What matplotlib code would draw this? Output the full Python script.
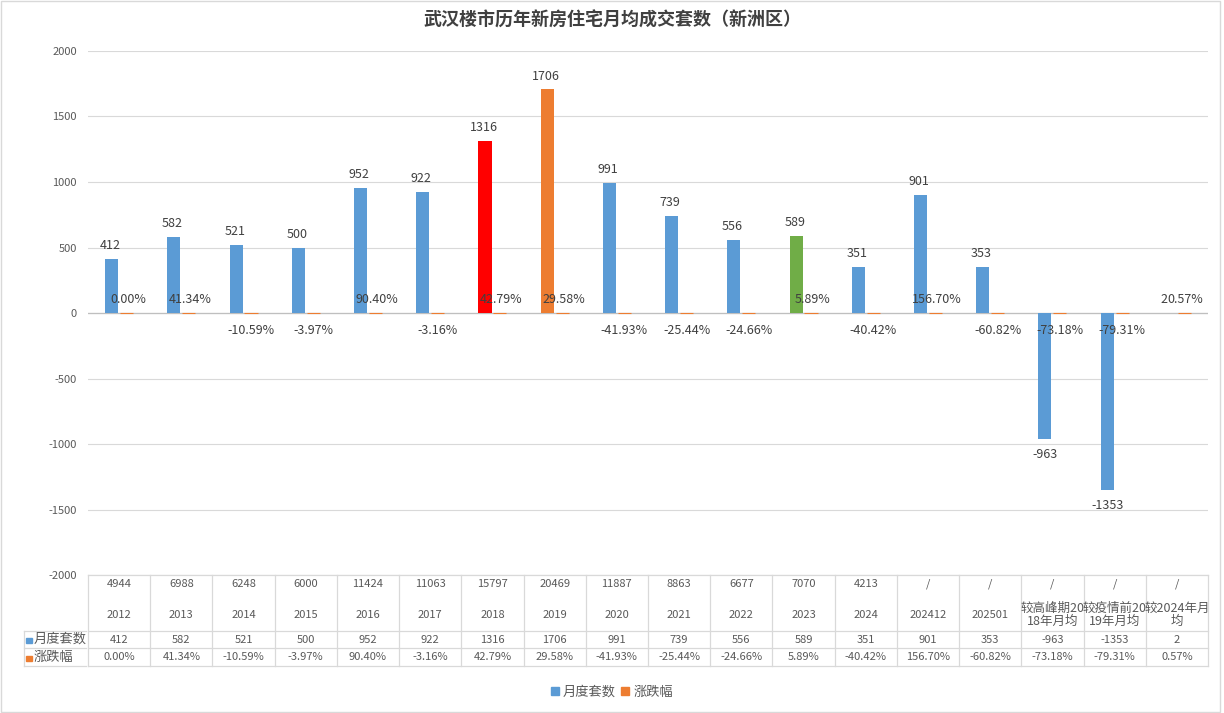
import matplotlib.pyplot as plt
import matplotlib.transforms as mtransforms
from matplotlib.patches import Rectangle, Patch

plt.rcParams['font.family'] = ['Noto Sans CJK SC', 'DejaVu Sans']
plt.rcParams['axes.unicode_minus'] = False

# 数据
years = ['2012', '2013', '2014', '2015', '2016', '2017', '2018', '2019', '2020',
         '2021', '2022', '2023', '2024', '202412', '202501',
         '较高峰期20\n18年月均', '较疫情前20\n19年月均', '较2024年月\n均']
totals = ['4944', '6988', '6248', '6000', '11424', '11063', '15797', '20469', '11887',
          '8863', '6677', '7070', '4213', '/', '/', '/', '/', '/']
monthly = [412, 582, 521, 500, 952, 922, 1316, 1706, 991, 739, 556, 589, 351,
           901, 353, -963, -1353, 2]
change = [0.0, 0.4134, -0.1059, -0.0397, 0.9040, -0.0316, 0.4279, 0.2958, -0.4193,
          -0.2544, -0.2466, 0.0589, -0.4042, 1.5670, -0.6082, -0.7318, -0.7931, 0.0057]

BLUE = '#5B9BD5'
ORANGE = '#ED7D31'
TXT = '#404040'
GRID = '#D9D9D9'

blue_colors = [BLUE] * len(years)
blue_colors[6] = '#FF0000'
blue_colors[7] = ORANGE
blue_colors[11] = '#70AD47'

fig = plt.figure(figsize=(12.24, 7.13), dpi=100)
ax = fig.add_axes([0.0719, 0.1935, 0.915, 0.735])

n = len(years)
xs = list(range(n))
w = 0.21
off = 0.12

ax.bar([x - off for x in xs], monthly, width=w, color=blue_colors, zorder=3)
ax.bar([x + off for x in xs], change, width=w, color=ORANGE,
       edgecolor=ORANGE, linewidth=0.8, zorder=3)

for x, v in zip(xs, monthly):
    if v >= 0:
        # 最后一列的 "2" 与 0.57% 挨得太近，稍微左移
        dx = -4 if x == n - 1 else -1
        ax.annotate(str(v), (x - off, v), xytext=(dx, 5), textcoords='offset points',
                    ha='center', va='bottom', fontsize=9, color=TXT)
    else:
        ax.annotate(str(v), (x - off, v), xytext=(0, -6), textcoords='offset points',
                    ha='center', va='top', fontsize=9, color=TXT)

for x, v in zip(xs, change):
    s = f'{v:.2%}'
    if v >= 0:
        ax.annotate(s, (x + off, 0), xytext=(1, 5), textcoords='offset points',
                    ha='center', va='bottom', fontsize=9, color=TXT)
    else:
        ax.annotate(s, (x + off, 0), xytext=(0, -8), textcoords='offset points',
                    ha='center', va='top', fontsize=9, color=TXT)

ax.set_xlim(-0.5, n - 0.5)
ax.set_ylim(-2000, 2000)
ax.set_yticks(range(-2000, 2001, 500))
ax.tick_params(axis='y', length=0, labelsize=8, labelcolor='#595959', pad=8)
ax.set_xticks([])
ax.grid(axis='y', color=GRID, linewidth=0.8, zorder=0)
ax.axhline(0, color='#BFBFBF', linewidth=0.9, zorder=2)
for s in ax.spines.values():
    s.set_visible(False)

# 数据表
trans = mtransforms.blended_transform_factory(ax.transData, ax.transAxes)
r1, r2, r3 = -0.1069, -0.1393, -0.1737
lc = dict(color=GRID, linewidth=0.9, transform=trans, clip_on=False)
ax.plot([-0.5, n - 0.5], [0, 0], **lc)
for yy in (r1, r2, r3):
    ax.plot([-0.5, n - 0.5], [yy, yy], **lc)
for i in range(n + 1):
    ax.plot([i - 0.5, i - 0.5], [0, r3], **lc)

for i in range(n):
    ax.text(i, -0.017, totals[i], transform=trans, ha='center', va='center',
            fontsize=8, color='#595959')
    ax.text(i, -0.0765, years[i], transform=trans, ha='center', va='center',
            fontsize=8 if '\n' not in years[i] else 9, color='#595959',
            linespacing=1.0)
    ax.text(i, (r1 + r2) / 2, str(monthly[i]), transform=trans, ha='center',
            va='center', fontsize=8, color='#595959')
    ax.text(i, (r2 + r3) / 2, f'{change[i]:.2%}', transform=trans, ha='center',
            va='center', fontsize=8, color='#595959')

# 行标题
x0 = 24 / 1224
x1 = 86 / 1224
fy = lambda py: 1 - py / 713
for py in (631, 648, 666):
    fig.add_artist(plt.Line2D([x0, x1], [fy(py), fy(py)], color=GRID, linewidth=0.9))
fig.add_artist(plt.Line2D([x0, x0], [fy(631), fy(666)], color=GRID, linewidth=0.9))
fig.add_artist(Rectangle((x0 + 0.002, fy(643)), 0.0045, 0.0075, color=BLUE,
                         transform=fig.transFigure))
fig.add_artist(Rectangle((x0 + 0.002, fy(661)), 0.0045, 0.0075, color=ORANGE,
                         transform=fig.transFigure))
fig.text(x0 + 0.008, fy(639.5), '月度套数', fontsize=9.5, color='#595959', va='center')
fig.text(x0 + 0.008, fy(657), '涨跌幅', fontsize=9.5, color='#595959', va='center')

fig.text(0.5, fy(20), '武汉楼市历年新房住宅月均成交套数（新洲区）', ha='center',
         va='center', fontsize=13, fontweight='bold', color='#404040')

fig.legend(handles=[Patch(color=BLUE, label='月度套数'), Patch(color=ORANGE, label='涨跌幅')],
           loc='center', bbox_to_anchor=(0.5, fy(692)), ncol=2, frameon=False,
           fontsize=9.5, handlelength=0.6, handleheight=0.6, handletextpad=0.3,
           columnspacing=0.4, labelcolor='#595959')

fig.add_artist(Rectangle((0.001, 0.001), 0.996, 0.997, fill=False, edgecolor=GRID,
                         linewidth=1, transform=fig.transFigure))

plt.savefig('out.png')
